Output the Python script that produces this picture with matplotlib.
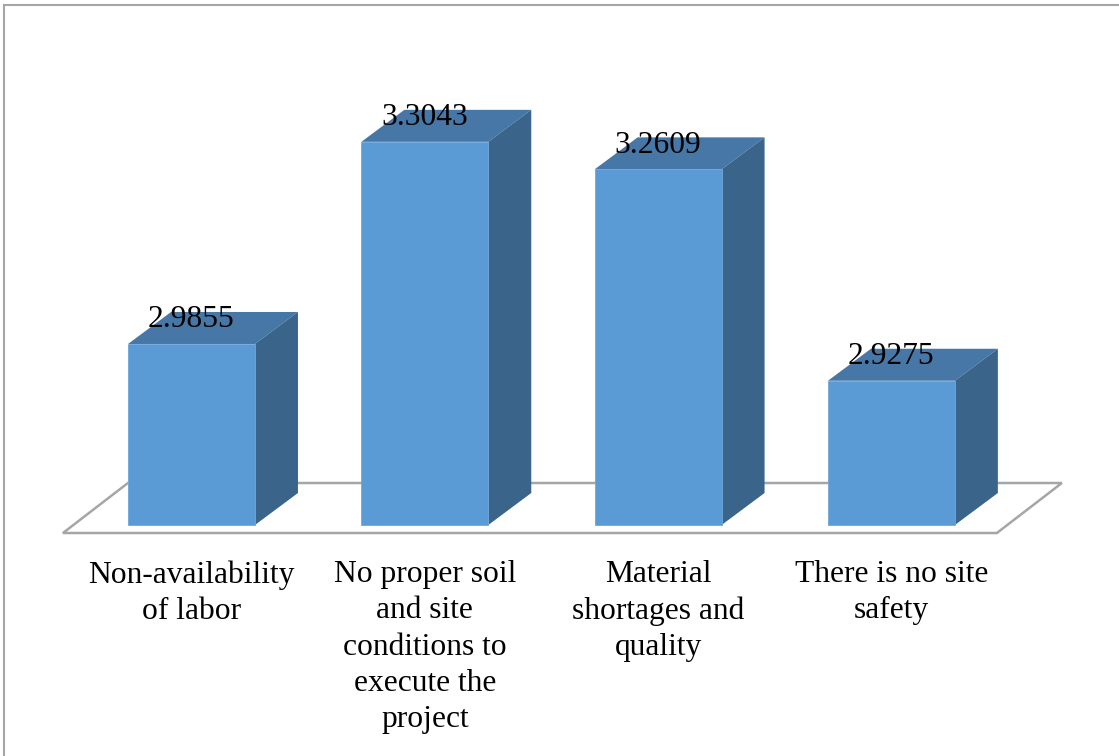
import matplotlib.pyplot as plt
from matplotlib.patches import Polygon
from matplotlib.lines import Line2D
import numpy as np

categories = ['Non-availability\nof labor',
              'No proper soil\nand site\nconditions to\nexecute the\nproject',
              'Material\nshortages and\nquality',
              'There is no site\nsafety']
values = [2.9855, 3.3043, 3.2609, 2.9275]
labels = ['2.9855', '3.3043', '3.2609', '2.9275']
base = 2.7

front_col = '#5b9bd5'
top_col = '#4677a7'
side_col = '#3a6489'

plt.rcParams['font.family'] = ['Liberation Serif', 'DejaVu Serif']

fig = plt.figure(figsize=(11.19, 7.56), dpi=100)
ax = fig.add_axes([0, 0, 1, 1])
ax.set_xlim(-0.8208, 3.9755)
ax.set_ylim(2.3357, 3.528)
ax.axis('off')

# pixel -> data unit conversion (x: 233.3 px per category, y: 634 px per unit)
px_x = 1 / 233.3
px_y = 1 / 634.0

x = np.arange(len(values))
w = 0.544
ddx, ddy = 43 * px_x, 32 * px_y

# floor
fy = base - 8 * px_y
fdx, fdy = 65 * px_x, 50 * px_y
fl, fr = -0.551, 3.452
floor = Polygon([(fl, fy), (fr, fy), (fr + fdx, fy + fdy), (fl + fdx, fy + fdy)],
                closed=True, facecolor='white', edgecolor='#a6a6a6', lw=1.8, zorder=1)
ax.add_patch(floor)

vals = np.array(values)
ax.bar(x, vals - base, bottom=base, width=w, color=front_col, edgecolor='#6fa8dc',
       lw=0.6, zorder=3)
for xi, v in zip(x, values):
    l, r = xi - w / 2, xi + w / 2
    top = Polygon([(l, v), (r, v), (r + ddx, v + ddy), (l + ddx, v + ddy)],
                  closed=True, facecolor=top_col, edgecolor='none', zorder=2)
    side = Polygon([(r, base), (r + ddx, base + ddy), (r + ddx, v + ddy), (r, v)],
                   closed=True, facecolor=side_col, edgecolor='none', zorder=2)
    ax.add_patch(top)
    ax.add_patch(side)

for xi, v, t in zip(x, values, labels):
    ax.annotate(t, (xi, v), xytext=(0, 17.5), textcoords='offset points',
                ha='center', va='center', fontsize=22.7, color='black', zorder=5)

for xi, c in zip(x, categories):
    ax.text(xi, base - 35 * px_y, c, ha='center', va='top', fontsize=22.7,
            linespacing=1.33, color='black')

# outer frame (cropped at right and bottom)
fig.add_artist(Line2D([3.5 / 1119, 1], [1 - 4.5 / 756, 1 - 4.5 / 756],
                      transform=fig.transFigure, color='#a6a6a6', lw=1.5))
fig.add_artist(Line2D([3.5 / 1119, 3.5 / 1119], [0, 1 - 4.5 / 756],
                      transform=fig.transFigure, color='#a6a6a6', lw=1.5))

fig.savefig('out.png', dpi=100)
